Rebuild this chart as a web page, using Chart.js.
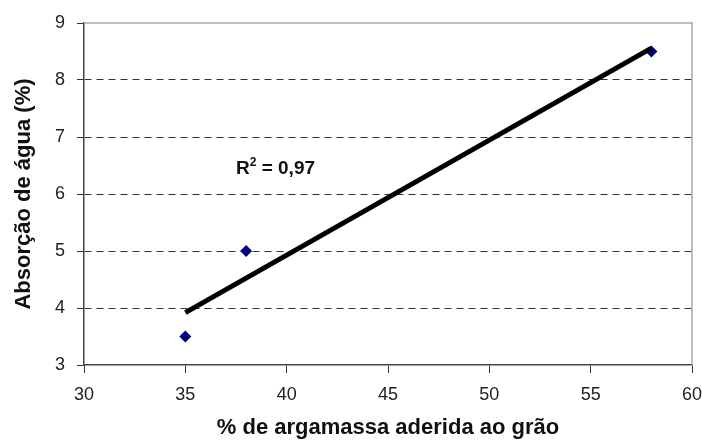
<!DOCTYPE html>
<html>
<head>
<meta charset="utf-8">
<script src="https://cdn.jsdelivr.net/npm/chart.js@4"></script>
<style>
  html, body { margin: 0; padding: 0; background: #fff; }
  #wrap { width: 702px; height: 442px; }
</style>
</head>
<body>
<div id="wrap"><canvas id="chart"></canvas></div>
<script>
// values
const xValues = [35, 38, 58];
const yValues = [3.5, 5, 8.5];
const trendX = [35, 58];
const trendY = [3.92, 8.56];
const r2Text = ["R", "2", " = 0,97"];
const r2Pos = [37.5, 6.45];
const xRange = [30, 60, 5];
const yRange = [3, 9, 1];

const FONT = "'Liberation Sans', Arial, sans-serif";

const frame = {
  id: "frame",
  afterDatasetsDraw(chart) {
    const ctx = chart.ctx;
    const a = chart.chartArea;
    ctx.save();
    ctx.strokeStyle = "#a8a8a8";
    ctx.lineWidth = 1.5;
    ctx.beginPath();
    ctx.moveTo(a.left, a.top);
    ctx.lineTo(a.right, a.top);
    ctx.lineTo(a.right, a.bottom);
    ctx.stroke();

    // R² label
    const x = chart.scales.x.getPixelForValue(r2Pos[0]);
    const y = chart.scales.y.getPixelForValue(r2Pos[1]);
    ctx.fillStyle = "#111";
    ctx.textBaseline = "middle";
    ctx.font = "bold 19px " + FONT;
    ctx.fillText(r2Text[0], x, y);
    let w = ctx.measureText(r2Text[0]).width;
    ctx.font = "bold 12px " + FONT;
    ctx.fillText(r2Text[1], x + w, y - 6);
    w += ctx.measureText(r2Text[1]).width;
    ctx.font = "bold 19px " + FONT;
    ctx.fillText(r2Text[2], x + w, y);
    ctx.restore();
  }
};

new Chart(document.getElementById("chart"), {
  type: "scatter",
  plugins: [frame],
  data: {
    datasets: [
      {
        label: "pontos",
        data: xValues.map((v, i) => ({ x: v, y: yValues[i] })),
        pointStyle: "rectRot",
        pointRadius: 6,
        backgroundColor: "#000080",
        borderColor: "#000080",
        borderWidth: 0,
        order: 1,
      },
      {
        label: "tendência",
        data: trendX.map((v, i) => ({ x: v, y: trendY[i] })),
        showLine: true,
        borderColor: "#000",
        borderWidth: 5,
        pointRadius: 0,
        order: 0,
      },
    ],
  },
  options: {
    responsive: true,
    maintainAspectRatio: false,
    animation: false,
    layout: { padding: { top: 23, right: 10, left: 0, bottom: 0 } },
    plugins: {
      legend: { display: false },
      tooltip: { enabled: false },
    },
    scales: {
      x: {
        type: "linear",
        min: xRange[0],
        max: xRange[1],
        afterFit: (scale) => {
          scale.height = 77;
          scale.paddingLeft = 0;
          scale.paddingRight = 0;
        },
        ticks: {
          stepSize: xRange[2],
          color: "#222",
          font: { family: FONT, size: 18 },
          padding: 11,
        },
        grid: {
          drawOnChartArea: false,
          drawTicks: true,
          tickLength: 8,
          tickColor: "#333",
        },
        border: { color: "#444", width: 1.5 },
        title: {
          display: true,
          text: "% de argamassa aderida ao grão",
          color: "#111",
          font: { family: FONT, size: 22, weight: "bold" },
          padding: { top: 0, bottom: 1 },
        },
      },
      y: {
        type: "linear",
        min: yRange[0],
        max: yRange[1],
        afterFit: (scale) => {
          scale.width = 84;
          scale.paddingTop = 0;
          scale.paddingBottom = 0;
        },
        ticks: {
          stepSize: yRange[2],
          color: "#222",
          font: { family: FONT, size: 18 },
          padding: 12,
        },
        grid: {
          color: (c) => (c.tick && (c.tick.value === yRange[0] || c.tick.value === yRange[1])) ? "rgba(0,0,0,0)" : "#333",
          tickBorderDash: [],
          tickLength: 7,
          tickColor: "#333",
        },
        border: { color: "#444", width: 1.5, dash: [7, 5] },
        title: {
          display: true,
          text: "Absorção de água (%)",
          color: "#111",
          font: { family: FONT, size: 22, weight: "bold" },
          padding: { top: 11, bottom: 0 },
        },
      },
    },
  },
});
</script>
</body>
</html>
